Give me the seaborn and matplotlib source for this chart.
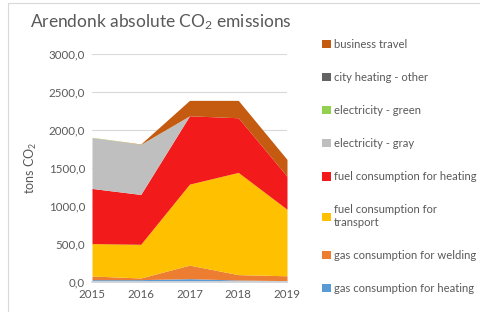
"""Arendonk absolute CO2 emissions - stacked area chart."""

import matplotlib

matplotlib.use("Agg")
import matplotlib.pyplot as plt
import numpy as np
import pandas as pd
import seaborn as sns
from matplotlib.patches import Patch, Rectangle

# Data (tons CO2), stack order bottom -> top.
YEARS = [2015, 2016, 2017, 2018, 2019]
GAS_HEATING = [31, 31, 44, 26, 18]
GAS_WELDING = [48, 22, 178, 71, 64]
FUEL_TRANSPORT = [427, 444, 1066, 1345, 875]
FUEL_HEATING = [725, 655, 899, 719, 436]
ELECTRICITY_GRAY = [669, 658, 0, 0, 0]
ELECTRICITY_GREEN = [4, 2, 0, 0, 0]
CITY_HEATING_OTHER = [0, 0, 0, 0, 0]
BUSINESS_TRAVEL = [0, 4, 203, 229, 220]

SERIES = [
    ("gas consumption for heating", GAS_HEATING, "#5B9BD5"),
    ("gas consumption for welding", GAS_WELDING, "#ED7D31"),
    ("fuel consumption for\ntransport", FUEL_TRANSPORT, "#FFC000"),
    ("fuel consumption for heating", FUEL_HEATING, "#F21A1A"),
    ("electricity - gray", ELECTRICITY_GRAY, "#BFBFBF"),
    ("electricity - green", ELECTRICITY_GREEN, "#92D050"),
    ("city heating - other", CITY_HEATING_OTHER, "#636363"),
    ("business travel", BUSINESS_TRAVEL, "#C55A11"),
]

TEXT = "#595959"

sns.set_theme(style="whitegrid")
plt.rcParams["font.family"] = ["Lato", "DejaVu Sans"]
plt.rcParams["mathtext.default"] = "regular"

frame = pd.DataFrame({name: values for name, values, _ in SERIES}, index=YEARS)

fig = plt.figure(figsize=(4.8, 3.12), dpi=100)
ax = fig.add_axes([92 / 480, 1 - 282 / 312, 195 / 480, 228 / 312])

ax.stackplot(
    frame.index,
    *[frame[name].to_numpy() for name, _, _ in SERIES],
    colors=[color for _, _, color in SERIES],
    linewidth=0,
)

ax.set_xlim(2015, 2019)
ax.set_ylim(0, 3000)
ax.set_xticks(YEARS)
ax.set_yticks(np.arange(0, 3001, 500))
ax.set_yticklabels([f"{v:.1f}".replace(".", ",") for v in np.arange(0, 3001, 500)])
ax.tick_params(axis="both", labelsize=8.3, colors=TEXT, length=0, pad=5)
ax.grid(axis="y", color="#D9D9D9", linewidth=0.8)
ax.grid(axis="x", visible=False)
ax.set_axisbelow(True)
for side in ["top", "right", "left"]:
    ax.spines[side].set_visible(False)
ax.spines["bottom"].set_color("#D9D9D9")
ax.set_facecolor("white")

ax.set_ylabel("tons CO$_2$", fontsize=9, color=TEXT, labelpad=7)

fig.text(0.335, 0.93, "Arendonk absolute CO$_2$ emissions", fontsize=12.5,
         color=TEXT, ha="center", va="center")

handles = [Patch(facecolor=color, edgecolor="none", label=name)
           for name, _, color in reversed(SERIES)]
fig.legend(
    handles=handles,
    loc="upper left",
    bbox_to_anchor=(312 / 480, 1 - 29 / 312),
    frameon=False,
    fontsize=8.1,
    labelcolor=TEXT,
    handlelength=0.75,
    handleheight=0.75,
    handletextpad=0.3,
    labelspacing=1.96,
)

fig.patches.append(Rectangle((8 / 480, -0.05), 1.2, 1.05 - 3 / 312,
                             transform=fig.transFigure, fill=False,
                             edgecolor="#D9D9D9", linewidth=0.8))

fig.savefig("out.png", dpi=100)
